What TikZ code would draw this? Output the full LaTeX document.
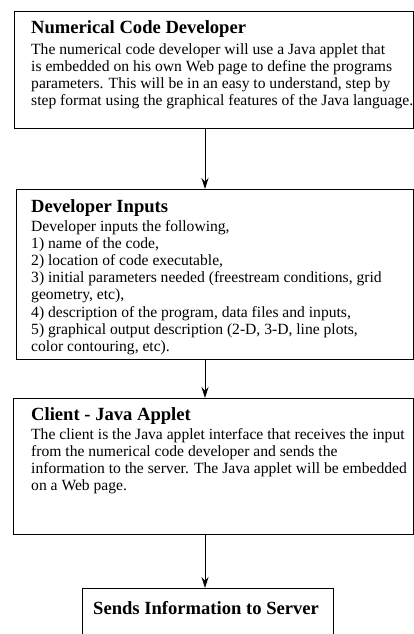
\documentclass[tikz,border=0pt]{standalone}
\usepackage{fontspec}
\setmainfont{Liberation Serif}
\usetikzlibrary{arrows.meta}

\tikzset{
  box/.style={draw, line width=1.4pt, anchor=north west, inner sep=0pt},
  heading/.style={anchor=base west, inner sep=0pt, font=\bfseries\fontsize{18.6}{20}\selectfont},
  body/.style={anchor=north west, inner sep=0pt, align=left, font=\fontsize{15.6}{17.2}\selectfont},
  flow/.style={-{Stealth[length=11pt,width=7pt]}, line width=0.9pt}
}

\begin{document}
\begin{tikzpicture}[x=1pt,y=-1pt]
\useasboundingbox (0,0) rectangle (414,634);
% Boxes
\node[box, minimum width=399pt, minimum height=117pt] (dev) at (14,11) {};
\node[box, minimum width=397pt, minimum height=170pt] (inp) at (16,189) {};
\node[box, minimum width=400pt, minimum height=136pt] (cli) at (13,398) {};
\node[box, minimum width=251pt, minimum height=70pt] (srv) at (82,588) {};
% Numerical code developer
\node[heading] (devtitle) at (31,34) {Numerical Code Developer};
\node[body] (devtext) at (31,43) {The numerical code developer will use a Java applet that\\
is embedded on his own Web page to define the programs\\
parameters. This will be in an easy to understand, step by\\
step format using the graphical features of the Java language.};
% Developer inputs
\node[heading] (inptitle) at (31,212) {Developer Inputs};
\node[body] (inptext) at (31,220) {Developer inputs the following,\\
1) name of the code,\\
2) location of code executable,\\
3) initial parameters needed (freestream conditions, grid\\
geometry, etc),\\
4) description of the program, data files and inputs,\\
5) graphical output description (2-D, 3-D, line plots,\\
color contouring, etc).};
% Client
\node[heading] (clititle) at (31,420) {Client - Java Applet};
\node[body] (clitext) at (31,428) {The client is the Java applet interface that receives the input\\
from the numerical code developer and sends the\\
information to the server. The Java applet will be embedded\\
on a Web page.};
% Server
\node[heading] (srvtitle) at (93,614) {Sends Information to Server};
% Arrows
\coordinate (ax) at (205,0);
\draw[flow] (dev.south -| ax) -- (inp.north -| ax);
\draw[flow] (inp.south -| ax) -- (cli.north -| ax);
\draw[flow] (cli.south -| ax) -- (srv.north -| ax);
\end{tikzpicture}
\end{document}
